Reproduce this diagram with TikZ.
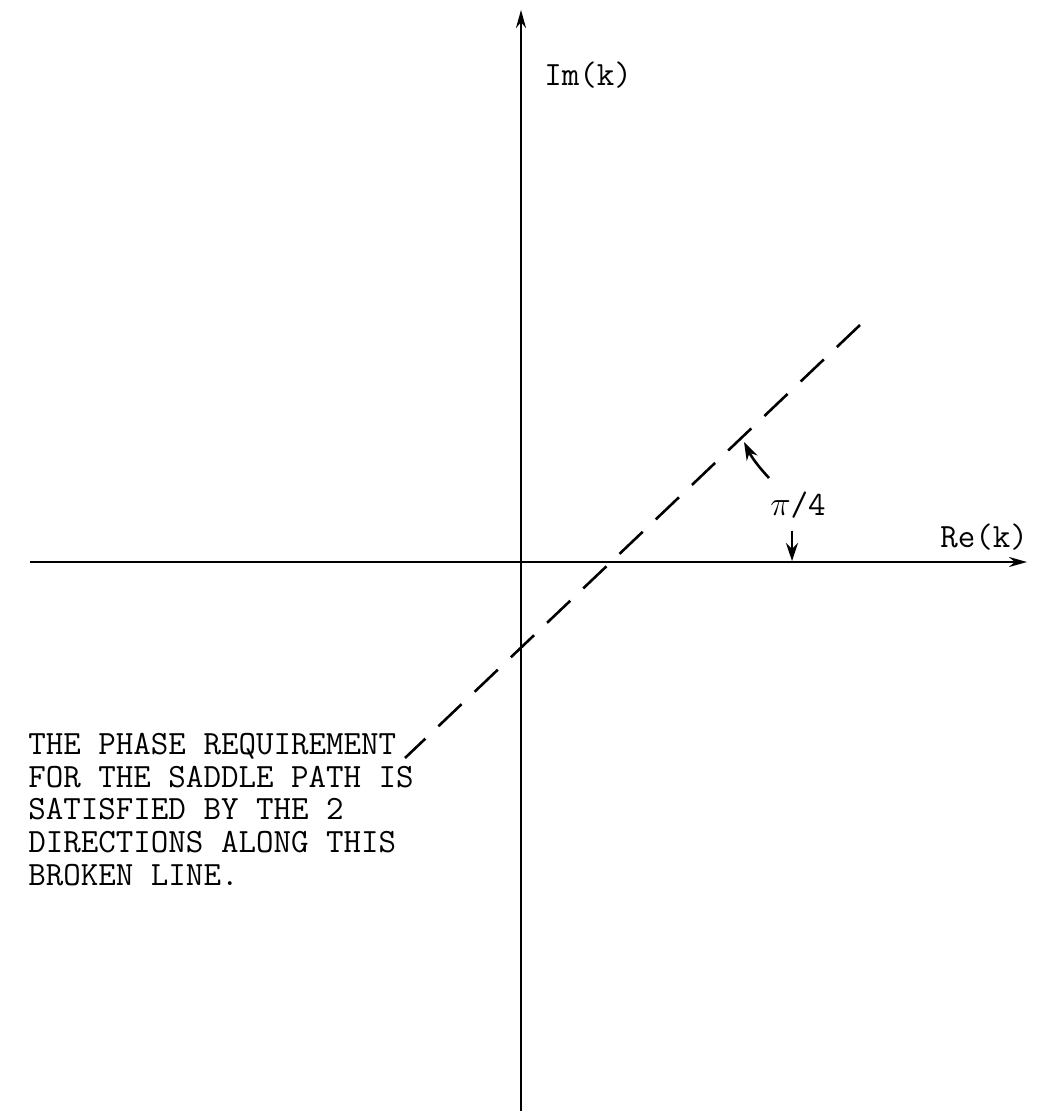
\documentclass[tikz,border=0pt]{standalone}
\usetikzlibrary{arrows.meta}
\tikzset{
  axis/.style={line width=1.2pt, -{Stealth[length=9pt,width=5pt]}},
  brokenline/.style={line width=1.3pt, dash pattern=on 16pt off 9pt},
  typed/.style={font=\fontsize{17}{16.3}\selectfont\ttfamily, inner sep=0pt},
}

\begin{document}
\begin{tikzpicture}[x=0.5pt, y=-0.5pt]
            \useasboundingbox (0,0) rectangle (1037,1113);
            \coordinate (xL) at (30,562);
            \coordinate (xR) at (1027,562);
            \coordinate (yB) at (521,1111);
            \coordinate (yT) at (521,10);
            \coordinate (dTop) at (860,325);
            \coordinate (dBot) at (405,758);
            \coordinate (arcTail) at (769,478);
            \coordinate (arcTip) at (744,442);
            \coordinate (angTip) at (792,561);

            \node[typed, anchor=west] (im) at (544,75) {Im(k)};
            \node[typed, anchor=west] (re) at (940,537) {Re(k)};
            \node[typed] (ang) at (798,505) {$\pi$/4};
            \node[typed, anchor=north west, align=left] (note) at (28,733)
                {THE PHASE REQUIREMENT\\FOR THE SADDLE PATH IS\\SATISFIED BY THE 2\\DIRECTIONS ALONG THIS\\BROKEN LINE.};

            \draw[axis] (xL) -- (xR);
            \draw[axis] (yB) -- (yT);
            \draw[brokenline] (dTop) -- (dBot);
            \draw[line width=1.3pt, -{Stealth[length=9pt,width=6pt]}] (arcTail) to[bend left=8] (arcTip);
            \draw[line width=1.3pt, -{Stealth[length=9pt,width=6pt]}] (ang.south) ++(-6,12) -- (angTip);
        \end{tikzpicture}
\end{document}
